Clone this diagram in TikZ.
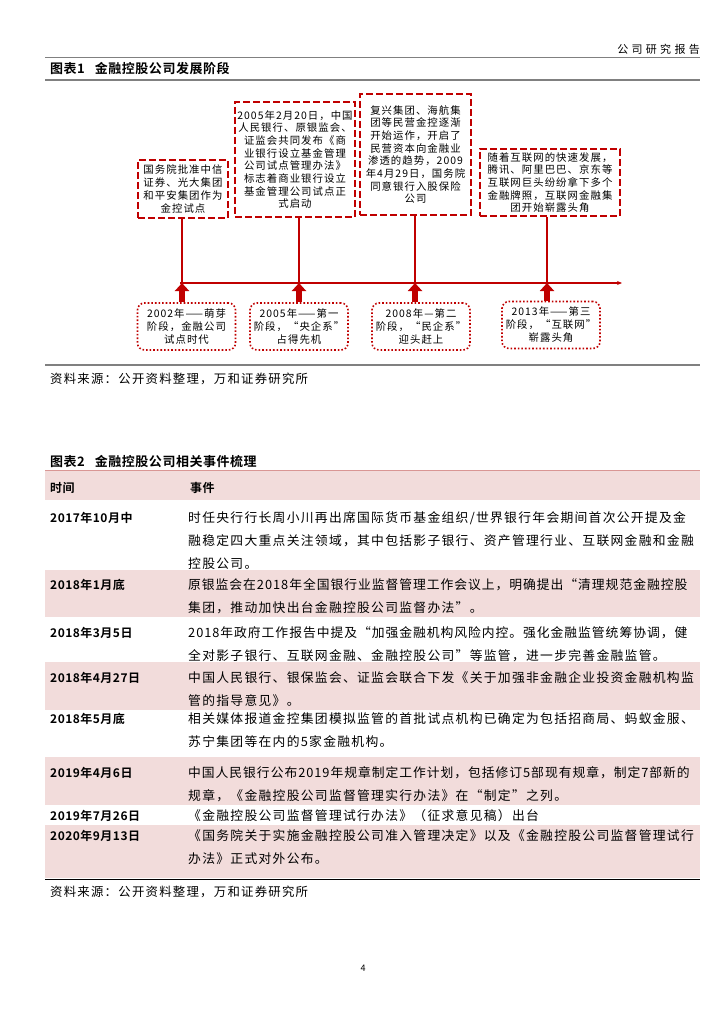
\documentclass[tikz,border=0pt]{standalone}
\usepackage{fontspec}
\setmainfont{Noto Sans CJK SC}
\newfontfamily\cjk[LetterSpace=10]{Noto Sans CJK SC}
\newfontfamily\cjkbold[LetterSpace=4]{Noto Sans CJK SC Bold}
\newfontfamily\cjkwide[LetterSpace=30]{Noto Sans CJK SC}
\usetikzlibrary{arrows.meta,positioning}
\definecolor{wanred}{HTML}{C00000}
\definecolor{rowpink}{HTML}{F2DCDB}
\definecolor{rowline}{HTML}{D99694}
\newcommand{\firstline}{\rule{0pt}{11pt}}
\newcommand{\tight}[1]{{\addfontfeature{LetterSpace=7.5}#1}}

\begin{document}
\begin{tikzpicture}[x=1pt, y=-1pt,
    eventbox/.style={draw=wanred, line width=2pt, dash pattern=on 7pt off 3pt,
      align=center, inner sep=1pt, font=\cjk\fontsize{10.4}{12.7}\selectfont},
    stagebox/.style={draw=wanred, line width=1.6pt, dotted, rounded corners=7pt,
      align=center, inner sep=1pt, minimum width=98pt, minimum height=47pt,
      font=\cjk\fontsize{10.4}{13}\selectfont},
    dropline/.style={draw=wanred, line width=1.2pt},
    stagearrow/.style={draw=wanred, line width=6pt, -{Triangle[length=8pt,width=14pt]}},
    datecell/.style={anchor=base west, inner sep=0pt, font=\cjkbold\fontsize{12}{14}\selectfont},
    eventcell/.style={anchor=north west, inner sep=0pt, align=left, font=\cjk\fontsize{12.8}{23}\selectfont},
    caption/.style={anchor=base west, inner sep=0pt, font=\cjkbold\fontsize{13}{15}\selectfont},
    source/.style={anchor=base west, inner sep=0pt, font=\cjk\fontsize{12.4}{15}\selectfont}]
  \useasboundingbox[fill=white] (0,0) rectangle (724,1024);

  % page header
  \node[anchor=base east, inner sep=0pt, font=\cjkwide\fontsize{11}{13}\selectfont] (hdr) at (700,54) {公司研究报告};
  \draw[gray, line width=1pt] (45,58) -- (700,58);

  % figure 1
  \node[caption] (cap1) at (50,74) {图表1\hspace{10pt}金融控股公司发展阶段};
  \draw[gray, line width=1.5pt] (45,80) -- (700,80);

  \node[eventbox, minimum width=90pt, minimum height=58pt] (ev1) at (183,189)
    {国务院批准中信\\证券、光大集团\\和平安集团作为\\金控试点};
  \node[eventbox, minimum width=120pt, minimum height=115pt] (ev2) at (295,159.5)
    {2005年2月20日，中国\\人民银行、原银监会、\\证监会共同发布《商\\业银行设立基金管理\\公司试点管理办法》\\标志着商业银行设立\\基金管理公司试点正\\式启动};
  \node[eventbox, minimum width=111pt, minimum height=121pt] (ev3) at (415.5,154.5)
    {复兴集团、海航集\\团等民营金控逐渐\\开始运作，开启了\\民营资本向金融业\\渗透的趋势，2009\\年4月29日，国务院\\同意银行入股保险\\公司};
  \node[eventbox, minimum width=140pt, minimum height=67pt] (ev4) at (550,182.5)
    {随着互联网的快速发展，\\腾讯、阿里巴巴、京东等\\互联网巨头纷纷拿下多个\\金融牌照，互联网金融集\\团开始崭露头角};

  \node[stagebox] (st1) at (186.5,326.5) {2002年——萌芽\\阶段，金融公司\\试点时代};
  \node[stagebox] (st2) at (299,326.5) {2005年——第一\\阶段，“央企系”\\占得先机};
  \node[stagebox] (st3) at (421,326.5) {2008年—第二\\阶段，“民企系”\\迎头赶上};
  \node[stagebox] (st4) at (551,325) {2013年——第三\\阶段，“互联网”\\崭露头角};

  % timeline
  \coordinate (tl0) at (180,283);
  \coordinate (tl5) at (622,283);
  \coordinate (tl1) at (182,283);
  \coordinate (tl2) at (299,283);
  \coordinate (tl3) at (415,283);
  \coordinate (tl4) at (547,283);
  \draw[wanred, line width=1.2pt, -{Stealth[length=5pt,width=4pt]}] (tl0) -- (tl5);
  \draw[dropline] (tl1 |- ev1.south) -- (tl1);
  \draw[dropline] (tl2 |- ev2.south) -- (tl2);
  \draw[dropline] (tl3 |- ev3.south) -- (tl3);
  \draw[dropline] (tl4 |- ev4.south) -- (tl4);
  \draw[stagearrow] (tl1 |- st1.north) -- (tl1);
  \draw[stagearrow] (tl2 |- st2.north) -- (tl2);
  \draw[stagearrow] (tl3 |- st3.north) -- (tl3);
  \draw[stagearrow] (tl4 |- st4.north) -- (tl4);

  \draw[gray, line width=1.2pt] (45,365) -- (700,365);
  \node[source] (src1) at (50,383) {资料来源：公开资料整理，万和证券研究所};

  % figure 2
  \node[caption] (cap2) at (50,466) {图表2\hspace{10pt}金融控股公司相关事件梳理};
  \fill[rowpink] (45,470) rectangle (700,500);
  \fill[rowpink] (45,570) rectangle (700,617);
  \fill[rowpink] (45,662) rectangle (700,710);
  \fill[rowpink] (45,757) rectangle (700,805);
  \fill[rowpink] (45,825) rectangle (700,878);
  \draw[rowline, line width=1pt] (45,470) -- (700,470);
  \draw[black, line width=1pt] (45,879) -- (700,879);

  \node[datecell] (h1) at (50,492) {时间};
  \node[datecell] (h2) at (190,492) {事件};

  \node[datecell] (d1) at (50,522) {2017年10月中};
  \node[eventcell] (e1) at (188,511) {\firstline 时任央行行长周小川再出席国际货币基金组织/世界银行年会期间首次公开提及金\\融稳定四大重点关注领域，其中包括影子银行、资产管理行业、互联网金融和金融\\控股公司。};
  \node[datecell] (d2) at (50,589) {2018年1月底};
  \node[eventcell] (e2) at (188,578) {\firstline \tight{原银监会在2018年全国银行业监督管理工作会议上，明确提出“清理规范金融控股}\\集团，推动加快出台金融控股公司监督办法”。};
  \node[datecell] (d3) at (50,637) {2018年3月5日};
  \node[eventcell] (e3) at (188,626) {\firstline \tight{2018年政府工作报告中提及“加强金融机构风险内控。强化金融监管统筹协调，健}\\全对影子银行、互联网金融、金融控股公司”等监管，进一步完善金融监管。};
  \node[datecell] (d4) at (50,682) {2018年4月27日};
  \node[eventcell] (e4) at (188,671) {\firstline 中国人民银行、银保监会、证监会联合下发《关于加强非金融企业投资金融机构监\\管的指导意见》。};
  \node[datecell] (d5) at (50,723) {2018年5月底};
  \node[eventcell] (e5) at (188,712) {\firstline 相关媒体报道金控集团模拟监管的首批试点机构已确定为包括招商局、蚂蚁金服、\\苏宁集团等在内的5家金融机构。};
  \node[datecell] (d6) at (50,777) {2019年4月6日};
  \node[eventcell] (e6) at (188,766) {\firstline \tight{中国人民银行公布2019年规章制定工作计划，包括修订5部现有规章，制定7部新的}\\规章，《金融控股公司监督管理实行办法》在“制定”之列。};
  \node[datecell] (d7) at (50,820) {2019年7月26日};
  \node[eventcell] (e7) at (188,809) {\firstline 《金融控股公司监督管理试行办法》（征求意见稿）出台};
  \node[datecell] (d8) at (50,840) {2020年9月13日};
  \node[eventcell] (e8) at (188,829) {\firstline 《国务院关于实施金融控股公司准入管理决定》以及《金融控股公司监督管理试行\\办法》正式对外公布。};

  \node[source] (src2) at (50,896) {资料来源：公开资料整理，万和证券研究所};

  \node[anchor=base, inner sep=0pt, font=\fontsize{9}{11}\selectfont] (pg) at (363,971) {4};
\end{tikzpicture}
\end{document}
